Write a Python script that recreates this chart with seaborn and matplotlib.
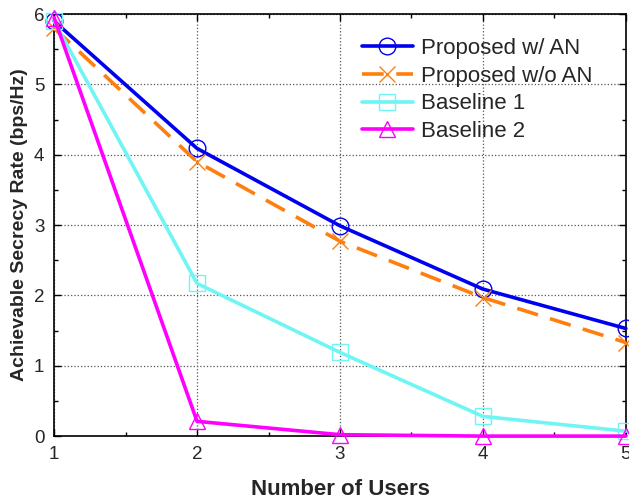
import numpy as np
import pandas as pd
import matplotlib
matplotlib.use('Agg')
import matplotlib.pyplot as plt
import seaborn as sns
from matplotlib.ticker import MultipleLocator

users = [1, 2, 3, 4, 5]
proposed_an = [5.9, 4.09, 2.99, 2.09, 1.53]
proposed_no_an = [5.8, 3.9, 2.77, 1.97, 1.33]
baseline1 = [5.9, 2.17, 1.19, 0.28, 0.07]
baseline2 = [5.95, 0.21, 0.02, 0.0, 0.0]

series = ['Proposed w/ AN', 'Proposed w/o AN', 'Baseline 1', 'Baseline 2']
df = pd.DataFrame({
    'users': users * 4,
    'rate': proposed_an + proposed_no_an + baseline1 + baseline2,
    'scheme': sum([[s] * len(users) for s in series], []),
})

sns.set_style('ticks')
plt.rcParams['font.family'] = ['Liberation Sans', 'DejaVu Sans']

fig = plt.figure(figsize=(6.29, 5.03), dpi=100)
ax = fig.add_axes([0.086, 0.133, 0.909, 0.839])

styles = {
    'Proposed w/ AN': dict(color='#0000F0', marker='o', ls='-'),
    'Proposed w/o AN': dict(color='#FF7F0E', marker='x', ls=(0, (6, 3.5))),
    'Baseline 1': dict(color='#70F5F5', marker='s', ls='-'),
    'Baseline 2': dict(color='#FF00FF', marker='^', ls='-'),
}

for s in series:
    st = styles[s]
    sub = df[df['scheme'] == s]
    sns.lineplot(data=sub, x='users', y='rate', ax=ax, color=st['color'],
                 linestyle=st['ls'], lw=2.6, marker=st['marker'], markersize=12,
                 markerfacecolor='none', markeredgecolor=st['color'],
                 markeredgewidth=1.0, label=s, clip_on=False, zorder=3)

ax.set_xlim(1, 5)
ax.set_ylim(0, 6)
ax.xaxis.set_major_locator(MultipleLocator(1))
ax.xaxis.set_minor_locator(MultipleLocator(0.5))
ax.yaxis.set_major_locator(MultipleLocator(1))
ax.yaxis.set_minor_locator(MultipleLocator(0.5))
ax.tick_params(which='both', direction='in', top=True, right=True,
               labelsize=13.5, width=1.0, color='black')
ax.tick_params(which='major', length=5, pad=7)
ax.tick_params(which='minor', length=3)
for sp in ax.spines.values():
    sp.set_visible(True)
    sp.set_color('black')
    sp.set_linewidth(1.2)
ax.grid(True, which='major', linestyle=':', color='#555555', lw=0.9)

ax.set_xlabel('Number of Users', fontsize=16, fontweight='bold', labelpad=12)
ax.set_ylabel('Achievable Secrecy Rate (bps/Hz)', fontsize=14, fontweight='bold', labelpad=4)

leg = ax.legend(loc='upper left', frameon=False, fontsize=16, handlelength=2.3,
                borderpad=0, borderaxespad=0, labelspacing=0.3, handletextpad=0.35,
                bbox_to_anchor=(0.538, 0.943))

fig.savefig('out.png', dpi=100)
